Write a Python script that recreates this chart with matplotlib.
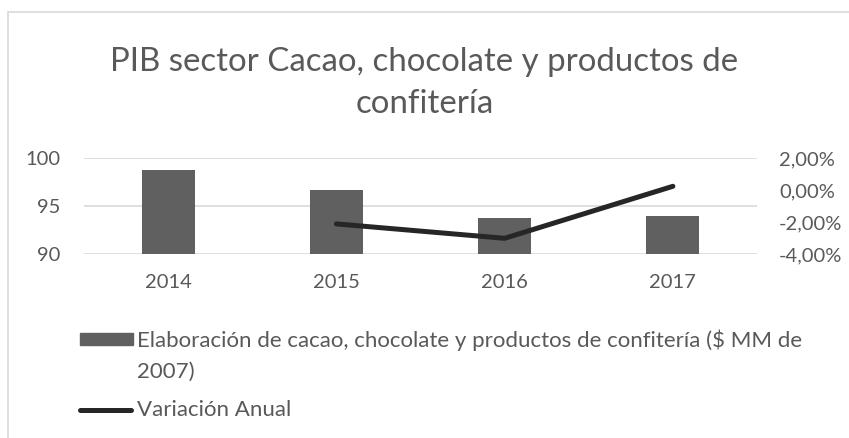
import matplotlib.pyplot as plt
from matplotlib.patches import Rectangle
from matplotlib.lines import Line2D
from matplotlib.ticker import FuncFormatter

years = ['2014', '2015', '2016', '2017']
pib = [98.75, 96.65, 93.75, 93.9]
var_years = ['2015', '2016', '2017']
variacion = [-2.15, -3.05, 0.2]

bar_color = '#606060'
line_color = '#262626'
text_color = '#595959'
grid_color = '#d9d9d9'

plt.rcParams['font.family'] = ['Lato', 'DejaVu Sans']

fig = plt.figure(figsize=(8.49, 4.39), dpi=100)

# chart border (only top and left edges visible)
fig.patches.append(Rectangle((8 / 849, -0.1), 1.0, (1 - 13 / 439) + 0.1,
                             transform=fig.transFigure, fill=False,
                             edgecolor=grid_color, linewidth=1.2))

ax = fig.add_axes([84 / 849, 1 - 254.5 / 439, (757 - 84) / 849, 96 / 439])
x = list(range(len(years)))
ax.bar(x, pib, width=0.315, color=bar_color, zorder=2)
ax.set_ylim(90, 100)
ax.set_yticks([90, 95, 100])
ax.set_xlim(-0.5, 3.5)
ax.set_xticks(x)
ax.set_xticklabels(years)
ax.grid(axis='y', color=grid_color, linewidth=1.2, zorder=0)
for s in ax.spines.values():
    s.set_visible(False)
ax.tick_params(length=0, labelsize=14.5, colors=text_color, pad=17)
ax.tick_params(axis='x', pad=14)

ax2 = ax.twinx()
xv = [years.index(y) for y in var_years]
ax2.plot(xv, variacion, color=line_color, linewidth=3.6,
         solid_capstyle='round', zorder=3)
ax2.set_ylim(-4, 2)
ax2.set_yticks([-4, -2, 0, 2])
ax2.yaxis.set_major_formatter(FuncFormatter(lambda v, p: f'{v:.2f}%'.replace('.', ',')))
for s in ax2.spines.values():
    s.set_visible(False)
ax2.tick_params(length=0, labelsize=14.5, colors=text_color, pad=16)

fig.text(0.5, 1 - 62 / 439, 'PIB sector Cacao, chocolate y productos de',
         ha='center', va='center', fontsize=23.8, color=text_color)
fig.text(0.5, 1 - 104 / 439, 'confitería',
         ha='center', va='center', fontsize=23.8, color=text_color)

# legend
fig.patches.append(Rectangle((80 / 849, 1 - 346 / 439), 53 / 849, 12 / 439,
                             transform=fig.transFigure, color=bar_color))
fig.text(137 / 849, 1 - 340 / 439,
         'Elaboración de cacao, chocolate y productos de confitería ($ MM de',
         ha='left', va='center', fontsize=16, color=text_color)
fig.text(137 / 849, 1 - 372 / 439, '2007)',
         ha='left', va='center', fontsize=16, color=text_color)
fig.lines.append(Line2D([80 / 849, 131 / 849], [1 - 411 / 439, 1 - 411 / 439],
                        transform=fig.transFigure, color=line_color,
                        linewidth=3.6, solid_capstyle='round'))
fig.text(137 / 849, 1 - 410 / 439, 'Variación Anual',
         ha='left', va='center', fontsize=16, color=text_color)

fig.savefig('out.png', dpi=100)
